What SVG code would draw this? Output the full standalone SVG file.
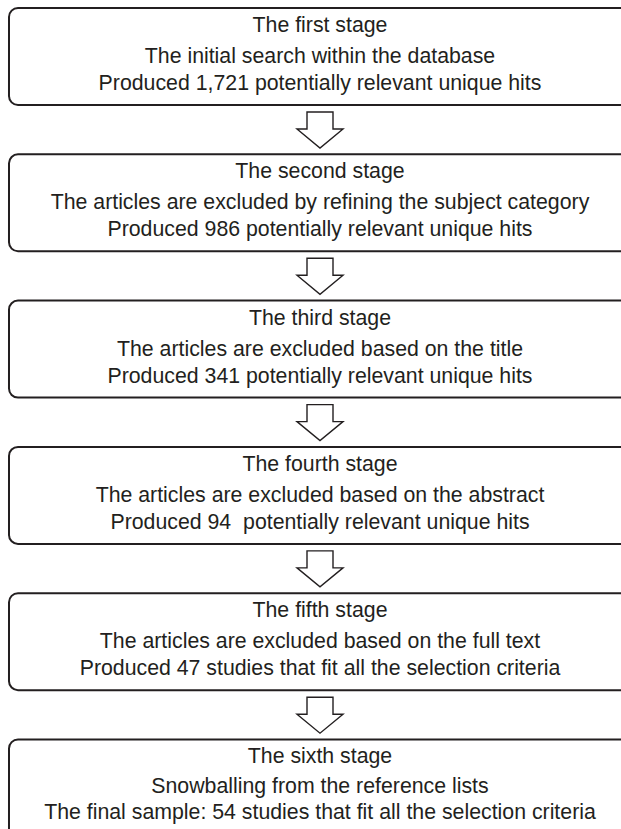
<svg xmlns="http://www.w3.org/2000/svg" width="621" height="829" viewBox="0 0 621 829">
<style>
.box{fill:#fff;stroke:#231f20;stroke-width:2}
.arr{fill:#fff;stroke:#231f20;stroke-width:1.4;stroke-linejoin:miter}
text{font-family:"Liberation Sans",Arial,sans-serif;font-size:21.3px;fill:#231f20;text-anchor:middle}
</style>
<defs>
<path id="a" d="M307,112 H333 V129 H343 L320,148 L297,129 H307 Z"/>
</defs>
<rect width="621" height="829" fill="#fff"/>
<g id="connectors">
<use href="#a" class="arr"/>
<use href="#a" class="arr" y="146.3"/>
<use href="#a" class="arr" y="292.6"/>
<use href="#a" class="arr" y="438.9"/>
<use href="#a" class="arr" y="585.2"/>
</g>
<g id="stage1">
<rect class="box" x="9" y="8" width="640" height="97" rx="9"/>
<text x="320" y="32">The first stage</text>
<text x="320" y="63">The initial search within the database</text>
<text x="320" y="90">Produced 1,721 potentially relevant unique hits</text>
</g>
<g id="stage2">
<rect class="box" x="9" y="154.3" width="640" height="97" rx="9"/>
<text x="320" y="178.3">The second stage</text>
<text x="320" y="209.3">The articles are excluded by refining the subject category</text>
<text x="320" y="236.3">Produced 986 potentially relevant unique hits</text>
</g>
<g id="stage3">
<rect class="box" x="9" y="300.6" width="640" height="97" rx="9"/>
<text x="320" y="324.6">The third stage</text>
<text x="320" y="355.6">The articles are excluded based on the title</text>
<text x="320" y="382.6">Produced 341 potentially relevant unique hits</text>
</g>
<g id="stage4">
<rect class="box" x="9" y="446.9" width="640" height="97" rx="9"/>
<text x="320" y="470.9">The fourth stage</text>
<text x="320" y="501.9">The articles are excluded based on the abstract</text>
<text x="320" y="528.9" xml:space="preserve">Produced 94  potentially relevant unique hits</text>
</g>
<g id="stage5">
<rect class="box" x="9" y="593.2" width="640" height="97" rx="9"/>
<text x="320" y="617.2">The fifth stage</text>
<text x="320" y="648.2">The articles are excluded based on the full text</text>
<text x="320" y="675.2">Produced 47 studies that fit all the selection criteria</text>
</g>
<g id="stage6">
<rect class="box" x="9" y="739.5" width="640" height="120" rx="9"/>
<text x="320" y="762.5">The sixth stage</text>
<text x="320" y="792.5">Snowballing from the reference lists</text>
<text x="320" y="818.5">The final sample: 54 studies that fit all the selection criteria</text>
</g>
</svg>
